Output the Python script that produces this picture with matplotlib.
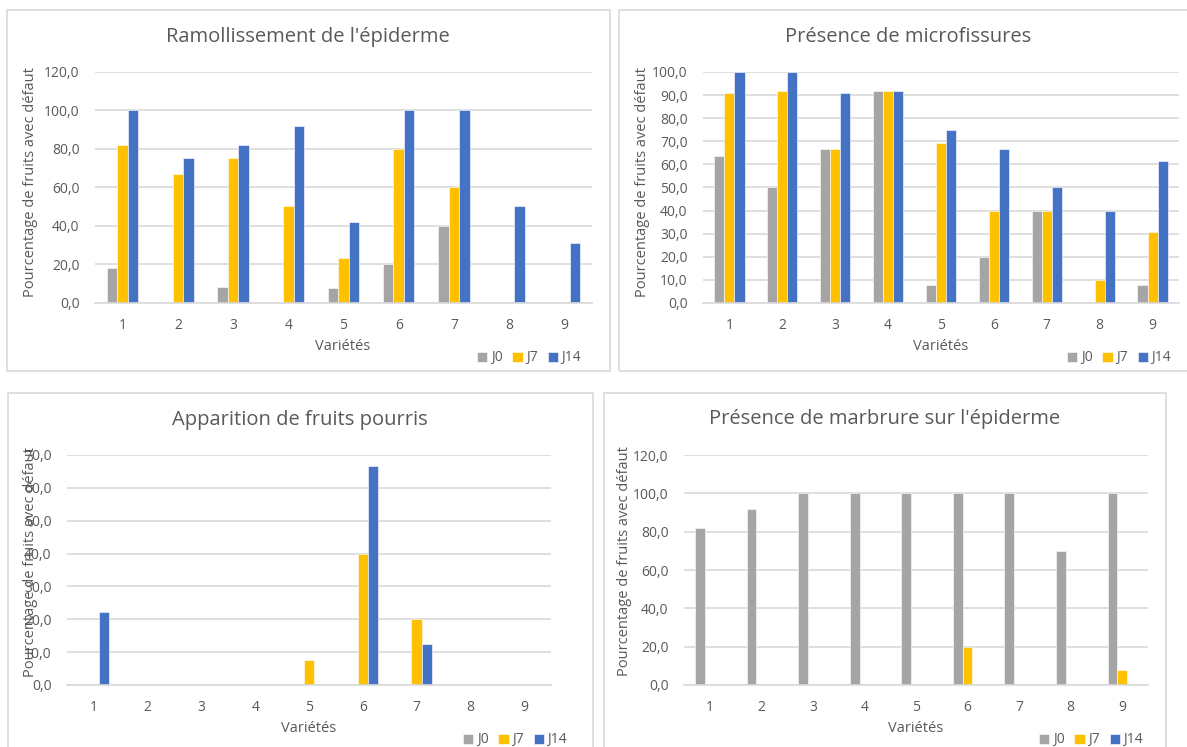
import matplotlib
matplotlib.use("Agg")
import matplotlib.pyplot as plt
import matplotlib.patches as patches
import numpy as np

# Data
varietes = ["1", "2", "3", "4", "5", "6", "7", "8", "9"]
series_names = ["J0", "J7", "J14"]

ramol_j0 = [18.2, 0, 8.3, 0, 7.7, 20.0, 40.0, 0, 0]
ramol_j7 = [81.8, 66.7, 75.0, 50.0, 23.1, 80.0, 60.0, 0, 0]
ramol_j14 = [100.0, 75.0, 81.8, 91.7, 41.7, 100.0, 100.0, 50.0, 30.8]

micro_j0 = [63.6, 50.0, 66.7, 91.7, 7.7, 20.0, 40.0, 0, 7.7]
micro_j7 = [90.9, 91.7, 66.7, 91.7, 69.2, 40.0, 40.0, 10.0, 30.8]
micro_j14 = [100.0, 100.0, 90.9, 91.7, 75.0, 66.7, 50.0, 40.0, 61.5]

pourris_j0 = [0, 0, 0, 0, 0, 0, 0, 0, 0]
pourris_j7 = [0, 0, 0, 0, 7.7, 40.0, 20.0, 0, 0]
pourris_j14 = [22.2, 0, 0, 0, 0, 66.7, 12.5, 0, 0]

marbr_j0 = [81.8, 91.7, 100.0, 100.0, 100.0, 100.0, 100.0, 70.0, 100.0]
marbr_j7 = [0, 0, 0, 0, 0, 20.0, 0, 0, 7.7]
marbr_j14 = [0, 0, 0, 0, 0, 0, 0, 0, 0]

colors = ["#A5A5A5", "#FFC000", "#4472C4"]
txt = "#595959"
grid_c = "#D9D9D9"

W, H = 1187, 747
plt.rcParams['font.family'] = ['Open Sans', 'DejaVu Sans']

fig = plt.figure(figsize=(W / 100, H / 100), dpi=100)


def px_rect(x0, y0, x1, y1):
    return [x0 / W, 1 - y1 / H, (x1 - x0) / W, (y1 - y0) / H]


def panel(box, border, title, title_xy, ylab_xy, xlab_xy, leg_xy, ymax, ystep, data):
    # frame around each chart
    bx0, by0, bx1, by1 = border
    fig.patches.append(patches.Rectangle((bx0 / W, 1 - by1 / H), (bx1 - bx0) / W, (by1 - by0) / H,
                                         transform=fig.transFigure, fill=False,
                                         edgecolor=grid_c, linewidth=1.2))
    ax = fig.add_axes(px_rect(*box))
    x = np.arange(len(varietes))
    w = 0.19
    bars = []
    for i, vals in enumerate(data):
        b = ax.bar(x + (i - 1) * w, vals, width=w, color=colors[i],
                   edgecolor="white", linewidth=0.4, zorder=3)
        bars.append(b)
    ax.set_xlim(-0.5, len(varietes) - 0.5)
    ax.set_ylim(0, ymax)
    ticks = np.arange(0, ymax + 0.01, ystep)
    ax.set_yticks(ticks)
    ax.set_yticklabels([f"{t:.1f}".replace(".", ",") for t in ticks])
    ax.set_xticks(x)
    ax.set_xticklabels(varietes)
    ax.tick_params(length=0, labelsize=10, colors=txt)
    ax.tick_params(axis="y", pad=11)
    ax.tick_params(axis="x", pad=11)
    ax.yaxis.grid(True, color=grid_c, linewidth=1.2, zorder=0)
    for s in ["top", "right", "left"]:
        ax.spines[s].set_visible(False)
    ax.spines["bottom"].set_color(grid_c)
    ax.spines["bottom"].set_linewidth(1.2)
    ax.spines["bottom"].set_zorder(4)
    ax.set_facecolor("none")

    fig.text(title_xy[0] / W, 1 - title_xy[1] / H, title, ha="center", va="center",
             fontsize=14.5, color=txt)
    fig.text(ylab_xy[0] / W, 1 - ylab_xy[1] / H, "Pourcentage de fruits avec défaut",
             ha="center", va="center", rotation=90, fontsize=10.5, color=txt, zorder=5)
    fig.text(xlab_xy[0] / W, 1 - xlab_xy[1] / H, "Variétés", ha="center", va="center",
             fontsize=10.5, color=txt)
    fig.legend(bars, series_names, loc="center", bbox_to_anchor=(leg_xy[0] / W, 1 - leg_xy[1] / H),
               ncol=3, frameon=False, fontsize=10, labelcolor=txt, handlelength=0.75,
               handleheight=0.75, handletextpad=0.25, columnspacing=0.7, borderpad=0)
    return ax


panel((95, 71.7, 592, 302.7), (7, 10, 610, 371), "Ramollissement de l'épiderme",
      (308, 37), (31, 182), (343, 347), (529, 358), 120, 20,
      [ramol_j0, ramol_j7, ramol_j14])

panel((703, 72, 1179, 303), (619, 10, 1200, 371), "Présence de microfissures",
      (908, 37), (642, 182), (941, 347), (1119, 358), 100, 10,
      [micro_j0, micro_j7, micro_j14])

panel((67, 455, 551, 685), (8, 393, 593, 760), "Apparition de fruits pourris",
      (300, 420), (31, 562), (309, 728), (515, 740), 70, 10,
      [pourris_j0, pourris_j7, pourris_j14])

panel((684, 455, 1148, 685), (604, 393, 1166, 760), "Présence de marbrure sur l'épiderme",
      (885, 419), (625, 561), (916, 728), (1091, 740), 120, 20,
      [marbr_j0, marbr_j7, marbr_j14])

fig.savefig("out.png", dpi=100, facecolor="white")
